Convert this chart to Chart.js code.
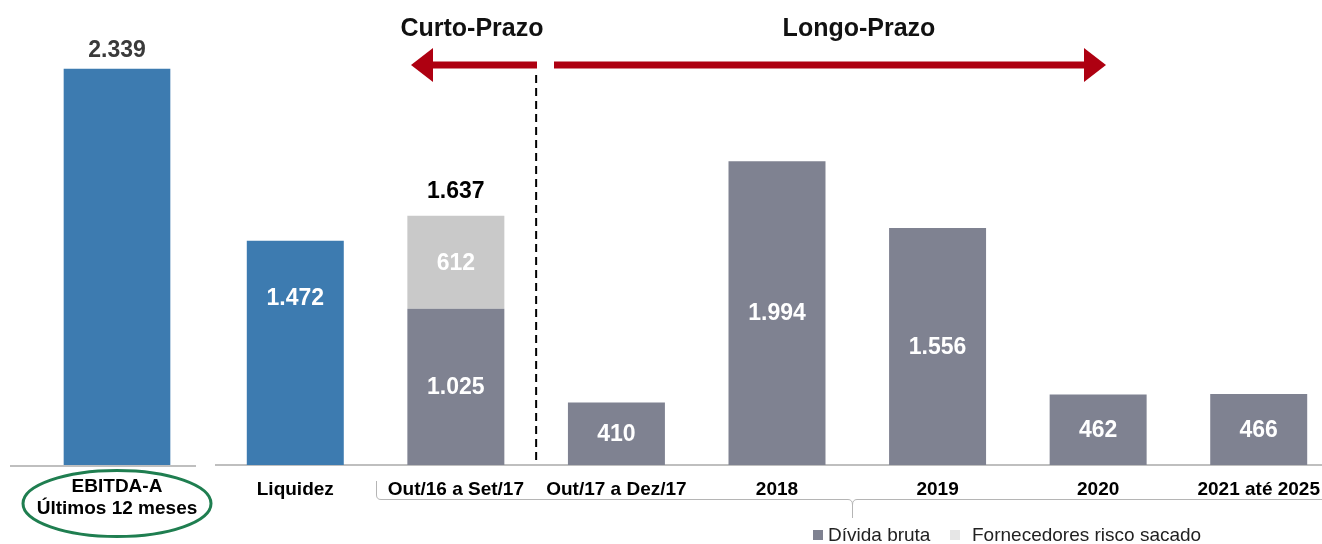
<!DOCTYPE html>
<html>
<head>
<meta charset="utf-8">
<script src="https://cdn.jsdelivr.net/npm/chart.js@4.4.1/dist/chart.umd.min.js"></script>
<style>
  html,body{margin:0;padding:0;background:#fff;}
  body{width:1322px;height:544px;overflow:hidden;position:relative;font-family:"Liberation Sans",Arial,sans-serif;}
  .wrap{position:absolute;top:0;height:544px;}
  .ttl{position:absolute;top:12px;font-weight:bold;font-size:25px;line-height:30px;color:#111;transform:translateX(-50%);white-space:nowrap;}
  .leg{position:absolute;top:524px;font-size:19px;line-height:22px;color:#222;white-space:nowrap;}
  .sw{position:absolute;width:10px;height:10px;top:530px;}
</style>
</head>
<body>
<div class="wrap" style="left:0;width:230px;"><canvas id="ca"></canvas></div>
<div class="wrap" style="left:215px;width:1124px;"><canvas id="cb"></canvas></div>
<div class="ttl" style="left:472px;">Curto-Prazo</div>
<div class="ttl" style="left:859px;">Longo-Prazo</div>
<div class="sw" style="left:813px;background:#7F8291;"></div>
<div class="leg" style="left:828px;">Dívida bruta</div>
<div class="sw" style="left:950px;background:#E6E6E6;"></div>
<div class="leg" style="left:972px;">Fornecedores risco sacado</div>
<script>
// ---- data ----
const ebitdaCategories = [['EBITDA-A', 'Últimos 12 meses']];
const ebitda = [2339];

const categories = ['Liquidez', 'Out/16 a Set/17', 'Out/17 a Dez/17', '2018', '2019', '2020', '2021 até 2025'];
const liquidez     = [1472, null, null, null, null, null, null];
const dividaBruta  = [null, 1025, 410, 1994, 1556, 462, 466];
const fornecedores = [null, 612, null, null, null, null, null];

// ---- helpers ----
const FONT = '"Liberation Sans", Arial, sans-serif';
function fmt(v){
  const s = String(Math.round(v));
  return s.replace(/\B(?=(\d{3})+(?!\d))/g, '.');
}
const BLUE = '#3D7BB0', GREY = '#7F8291', LIGHT = '#C9C9C9', RED = '#AE0011';

// value label plugin
const valueLabels = {
  id: 'valueLabels',
  afterDatasetsDraw(chart, args, opts){
    const ctx = chart.ctx;
    ctx.save();
    ctx.font = 'bold 23px ' + FONT;
    ctx.textAlign = 'center';
    ctx.textBaseline = 'middle';
    const totals = {};
    chart.data.datasets.forEach((ds, di) => {
      const meta = chart.getDatasetMeta(di);
      meta.data.forEach((el, i) => {
        const v = ds.data[i];
        if (v == null) return;
        totals[i] = totals[i] || {sum:0, top:Infinity, x:el.x, n:0};
        totals[i].sum += v; totals[i].n++;
        totals[i].top = Math.min(totals[i].top, el.y);
        if (!ds.inside) return;
        let y = (el.y + el.base) / 2;
        if (ds.labelFromTop) y = el.y + ds.labelFromTop;
        ctx.fillStyle = '#FFFFFF';
        ctx.fillText(fmt(v), el.x, y + 1);
      });
    });
    Object.keys(totals).forEach(i => {
      const t = totals[i];
      if (opts.totalFor && opts.totalFor.includes(Number(i))) {
        ctx.fillStyle = opts.totalColor;
        ctx.fillText(fmt(t.sum), t.x, t.top - opts.totalGap);
      }
    });
    ctx.restore();
  }
};

// decorations for left chart
const leftDeco = {
  id: 'leftDeco',
  afterDraw(chart){
    const ctx = chart.ctx;
    const b = chart.chartArea.bottom;
    ctx.save();
    ctx.strokeStyle = '#BFBFBF';
    ctx.lineWidth = 2;
    ctx.beginPath(); ctx.moveTo(10, b + 1); ctx.lineTo(196, b + 1); ctx.stroke();
    ctx.strokeStyle = '#1F7E50';
    ctx.lineWidth = 3;
    ctx.beginPath();
    ctx.ellipse(chart.scales.x.getPixelForValue(0), 503.5, 94, 33, 0, 0, Math.PI * 2);
    ctx.stroke();
    ctx.restore();
  }
};

// decorations for right chart
const rightDeco = {
  id: 'rightDeco',
  afterDraw(chart){
    const ctx = chart.ctx;
    const off = 215;
    const xs = chart.scales.x;
    ctx.save();
    // dashed separator between short and long term
    const sep = (xs.getPixelForValue(1) + xs.getPixelForValue(2)) / 2;
    ctx.strokeStyle = '#000';
    ctx.lineWidth = 2;
    ctx.setLineDash([8, 5]);
    ctx.beginPath(); ctx.moveTo(sep, 75); ctx.lineTo(sep, 463); ctx.stroke();
    ctx.setLineDash([]);
    // arrows
    ctx.fillStyle = RED;
    const ay = 65;
    ctx.fillRect(430 - off, ay - 3.5, 537 - 430, 7);
    ctx.beginPath(); ctx.moveTo(411 - off, ay); ctx.lineTo(433 - off, ay - 17); ctx.lineTo(433 - off, ay + 17); ctx.closePath(); ctx.fill();
    ctx.fillRect(554 - off, ay - 3.5, 1086 - 554, 7);
    ctx.beginPath(); ctx.moveTo(1106 - off, ay); ctx.lineTo(1084 - off, ay - 17); ctx.lineTo(1084 - off, ay + 17); ctx.closePath(); ctx.fill();
    // bracket under labels
    ctx.strokeStyle = '#B5B5B5';
    ctx.lineWidth = 1;
    ctx.beginPath();
    ctx.moveTo(376.5 - off, 481);
    ctx.lineTo(376.5 - off, 495);
    ctx.quadraticCurveTo(376.5 - off, 499.5, 381 - off, 499.5);
    ctx.lineTo(848 - off, 499.5);
    ctx.quadraticCurveTo(852.5 - off, 499.5, 852.5 - off, 505);
    ctx.lineTo(852.5 - off, 518);
    ctx.moveTo(852.5 - off, 505);
    ctx.quadraticCurveTo(852.5 - off, 499.5, 857 - off, 499.5);
    ctx.lineTo(1340 - off, 499.5);
    ctx.stroke();
    ctx.restore();
  }
};

Chart.defaults.font.family = FONT;
Chart.defaults.animation = false;

const xTickStyle = {
  font: { family: FONT, size: 19, weight: 'bold' },
  color: '#000',
  padding: 13,
  maxRotation: 0,
  autoSkip: false
};

new Chart(document.getElementById('ca'), {
  type: 'bar',
  data: {
    labels: ebitdaCategories,
    datasets: [{ label: 'EBITDA-A', data: ebitda, backgroundColor: BLUE, barThickness: 106, inside: false }]
  },
  options: {
    responsive: true, maintainAspectRatio: false, devicePixelRatio: 1,
    layout: { padding: { left: 10, right: 6, top: 8, bottom: 0 } },
    plugins: { legend: { display: false }, tooltip: { enabled: false },
      valueLabels: { totalFor: [0], totalColor: '#3A3A3A', totalGap: 18 } },
    scales: {
      x: { grid: { display: false, drawTicks: false }, border: { display: false },
           ticks: Object.assign({}, xTickStyle, { padding: 10 }),
           afterFit(s){ s.height = 79; } },
      y: { display: false, min: 0, max: 2700 }
    }
  },
  plugins: [valueLabels, leftDeco]
});

new Chart(document.getElementById('cb'), {
  type: 'bar',
  data: {
    labels: categories,
    datasets: [
      { label: 'Liquidez', data: liquidez, backgroundColor: BLUE, inside: true, labelFromTop: 57 },
      { label: 'Dívida bruta', data: dividaBruta, backgroundColor: GREY, inside: true },
      { label: 'Fornecedores risco sacado', data: fornecedores, backgroundColor: LIGHT, inside: true }
    ]
  },
  options: {
    responsive: true, maintainAspectRatio: false, devicePixelRatio: 1,
    layout: { padding: { left: 0, right: 0, top: 8, bottom: 0 } },
    datasets: { bar: { barPercentage: 0.604, categoryPercentage: 1 } },
    plugins: { legend: { display: false }, tooltip: { enabled: false },
      valueLabels: { totalFor: [1], totalColor: '#000', totalGap: 24 } },
    scales: {
      x: { stacked: true, grid: { display: false, drawTicks: false },
           border: { display: true, color: '#BFBFBF', width: 2 },
           ticks: xTickStyle,
           afterFit(s){ s.height = 79; } },
      y: { stacked: true, display: false, min: 0, max: 3000 }
    }
  },
  plugins: [valueLabels, rightDeco]
});
</script>
</body>
</html>
